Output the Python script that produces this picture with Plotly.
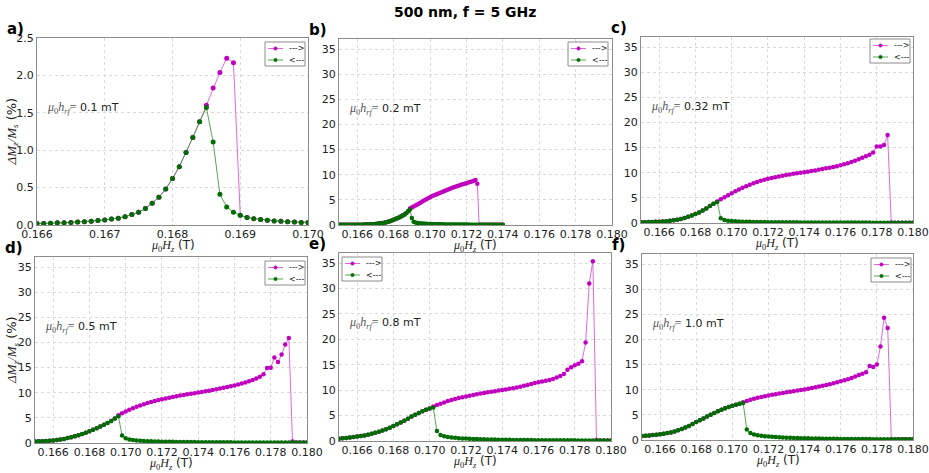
import plotly.graph_objects as go
import numpy as np

# ---------------- data ----------------
# panel a: x grid 0.1660 .. 0.1700, step 0.0001
a_x0, a_dx = 0.1660, 0.0001
a_back = [0.02, 0.02, 0.025, 0.03, 0.03, 0.035, 0.04, 0.045, 0.05, 0.06,
          0.067, 0.08, 0.09, 0.11, 0.14, 0.17, 0.22, 0.29, 0.37, 0.48,
          0.62, 0.78, 0.97, 1.17, 1.38, 1.57, 1.11, 0.41, 0.24, 0.17,
          0.13, 0.10, 0.085, 0.075, 0.065, 0.055, 0.05, 0.045, 0.04, 0.035,
          0.035]
a_split = 25
a_fwd_branch = [1.60, 1.83, 2.04, 2.23, 2.17, 0.13]

# panel b: x grid 0.1650 .. 0.1740, step 0.0001
b_x0, b_dx = 0.1650, 0.0001
b_back = [0.03, 0.03, 0.03, 0.03, 0.04, 0.04, 0.04, 0.04, 0.05, 0.05,
          0.05, 0.06, 0.06, 0.07, 0.08, 0.09, 0.10, 0.12, 0.14, 0.17,
          0.22, 0.25, 0.29, 0.34, 0.40, 0.47, 0.55, 0.64, 0.75, 0.88,
          1.02, 1.17, 1.33, 1.50, 1.68, 1.88, 2.10, 2.40, 2.75, 3.10,
          1.40, 0.65, 0.50, 0.42, 0.36, 0.32, 0.28, 0.25, 0.23, 0.21,
          0.19, 0.18, 0.17, 0.16, 0.15, 0.14, 0.14, 0.13, 0.12, 0.12,
          0.11, 0.11, 0.10, 0.10, 0.10, 0.09, 0.09, 0.09, 0.08, 0.08,
          0.08, 0.08, 0.07, 0.07, 0.07, 0.07, 0.07, 0.06, 0.06, 0.06,
          0.06, 0.06, 0.06, 0.06, 0.05, 0.05, 0.05, 0.05, 0.05, 0.05,
          0.05]
b_split = 39
b_fwd_branch = [3.3, 3.5, 3.7, 3.9, 4.1, 4.3, 4.5, 4.7, 4.9, 5.1,
                5.3, 5.5, 5.7, 5.85, 6.0, 6.15, 6.3, 6.45, 6.6, 6.75,
                6.9, 7.05, 7.2, 7.35, 7.5, 7.6, 7.75, 7.85, 8.0, 8.1,
                8.2, 8.3, 8.45, 8.55, 8.65, 8.8, 8.95, 8.2, 0.05]

# panels c-f: x grid 0.1650 .. 0.1800, step 0.0002
cf_x0, cf_dx = 0.1650, 0.0002
c_back = [0.15, 0.16, 0.18, 0.20, 0.23, 0.26, 0.30, 0.36, 0.43, 0.53,
          0.65, 0.80, 1.00, 1.25, 1.50, 1.80, 2.10, 2.50, 2.90, 3.40,
          3.85, 4.20, 0.95, 0.62, 0.47, 0.39, 0.34, 0.30, 0.27, 0.25,
          0.23, 0.21, 0.20, 0.19, 0.18, 0.17, 0.16, 0.155, 0.15, 0.145,
          0.14, 0.135, 0.13, 0.125, 0.12, 0.115, 0.11, 0.11, 0.105, 0.10,
          0.10, 0.10, 0.095, 0.09, 0.09, 0.09, 0.085, 0.085, 0.08, 0.08,
          0.08, 0.075, 0.075, 0.075, 0.07, 0.07, 0.07, 0.07, 0.065, 0.065,
          0.065, 0.065, 0.06, 0.06, 0.06, 0.06]
c_split = 21
c_fwd_branch = [4.3, 4.7, 5.1, 5.5, 5.9, 6.3, 6.65, 7.0, 7.3, 7.6,
                7.9, 8.15, 8.4, 8.6, 8.8, 8.95, 9.1, 9.25, 9.4, 9.55,
                9.65, 9.8, 9.9, 10.0, 10.1, 10.2, 10.35, 10.45, 10.6, 10.75,
                10.9, 11.0, 11.15, 11.3, 11.5, 11.7, 11.9, 12.15, 12.4, 12.7,
                13.0, 13.3, 13.6, 14.0, 15.2, 15.2, 15.5, 17.5, 0.1]

d_back = [0.30, 0.33, 0.37, 0.41, 0.46, 0.52, 0.60, 0.70, 0.82, 0.97,
          1.15, 1.35, 1.55, 1.80, 2.05, 2.35, 2.65, 2.95, 3.30, 3.65,
          4.00, 4.40, 4.85, 5.30, 1.50, 0.95, 0.72, 0.60, 0.52, 0.46,
          0.41, 0.37, 0.34, 0.31, 0.29, 0.27, 0.25, 0.24, 0.23, 0.22,
          0.21, 0.20, 0.19, 0.18, 0.18, 0.17, 0.16, 0.16, 0.15, 0.15,
          0.14, 0.14, 0.13, 0.13, 0.13, 0.12, 0.12, 0.12, 0.11, 0.11,
          0.11, 0.10, 0.10, 0.10, 0.10, 0.10, 0.09, 0.09, 0.09, 0.09,
          0.09, 0.09, 0.08, 0.08, 0.08, 0.08]
d_split = 23
d_fwd_branch = [5.5, 5.9, 6.25, 6.6, 6.9, 7.2, 7.45, 7.7, 7.95, 8.15,
                8.35, 8.55, 8.7, 8.85, 9.0, 9.15, 9.3, 9.45, 9.55, 9.7,
                9.8, 9.9, 10.05, 10.15, 10.3, 10.4, 10.55, 10.7, 10.85, 11.0,
                11.15, 11.3, 11.45, 11.65, 11.85, 12.05, 12.3, 12.55, 12.85, 13.2,
                13.7, 14.9, 14.95, 17.0, 16.1, 17.6, 19.6, 20.9, 0.3]

e_back = [0.45, 0.52, 0.60, 0.68, 0.77, 0.87, 0.98, 1.10, 1.25, 1.42,
          1.60, 1.82, 2.05, 2.30, 2.60, 2.95, 3.30, 3.65, 4.00, 4.40,
          4.80, 5.15, 5.50, 5.85, 6.15, 6.40, 6.60, 1.95, 1.20, 0.95,
          0.80, 0.70, 0.62, 0.56, 0.51, 0.47, 0.43, 0.40, 0.37, 0.35,
          0.33, 0.31, 0.29, 0.28, 0.26, 0.25, 0.24, 0.23, 0.22, 0.21,
          0.20, 0.19, 0.19, 0.18, 0.17, 0.17, 0.16, 0.16, 0.15, 0.15,
          0.14, 0.14, 0.14, 0.13, 0.13, 0.13, 0.12, 0.12, 0.12, 0.12,
          0.11, 0.11, 0.11, 0.11, 0.10, 0.10]
e_split = 26
e_fwd_branch = [6.8, 7.1, 7.35, 7.6, 7.85, 8.05, 8.25, 8.45, 8.6, 8.75,
                8.9, 9.05, 9.2, 9.35, 9.45, 9.6, 9.7, 9.8, 9.95, 10.05,
                10.15, 10.3, 10.4, 10.55, 10.7, 10.85, 11.0, 11.2, 11.4, 11.55,
                11.7, 11.85, 12.0, 12.2, 12.5, 12.8, 13.2, 14.0, 14.5, 14.9,
                15.2, 15.7, 19.4, 31.0, 35.4, 0.2]

f_back = [0.80, 0.85, 0.90, 0.97, 1.05, 1.15, 1.25, 1.37, 1.50, 1.70,
          1.95, 2.20, 2.50, 2.80, 3.20, 3.60, 3.95, 4.30, 4.65, 5.00,
          5.35, 5.70, 6.00, 6.30, 6.55, 6.80, 7.00, 7.20, 7.35, 2.10,
          1.40, 1.10, 0.95, 0.85, 0.76, 0.69, 0.63, 0.58, 0.54, 0.50,
          0.47, 0.44, 0.41, 0.39, 0.37, 0.35, 0.33, 0.31, 0.30, 0.29,
          0.27, 0.26, 0.25, 0.24, 0.23, 0.22, 0.22, 0.21, 0.20, 0.20,
          0.19, 0.19, 0.18, 0.18, 0.17, 0.17, 0.17, 0.16, 0.16, 0.16,
          0.15, 0.15, 0.15, 0.15, 0.14, 0.14]
f_split = 28
f_fwd_branch = [7.5, 7.75, 8.0, 8.2, 8.4, 8.55, 8.7, 8.85, 9.0, 9.1,
                9.25, 9.35, 9.5, 9.6, 9.7, 9.85, 9.95, 10.05, 10.2, 10.35,
                10.5, 10.65, 10.8, 10.95, 11.1, 11.3, 11.5, 11.7, 11.9, 12.1,
                12.35, 12.65, 12.95, 13.2, 13.5, 14.7, 14.5, 15.0, 18.6, 24.3,
                22.3, 0.1]

panel_letters = ["a)", "b)", "c)", "d)", "e)", "f)"]
hrf_labels = ["0.1 mT", "0.2 mT", "0.32 mT", "0.5 mT", "0.8 mT", "1.0 mT"]
legend_names = ["---&gt;", "&lt;---"]
title_text = "500 nm, f = 5 GHz"

# ---------------- layout geometry (pixels) ----------------
W, H = 929, 473
boxes = [  # left, right, top, bottom of each plot area
    (37, 308, 38, 225),
    (339, 612, 39, 225),
    (641, 913, 37, 223),
    (35, 307, 257, 443),
    (339, 611, 253, 441),
    (642, 913, 254, 440),
]
legend_boxes = [  # left, top of each legend box
    (265, 42), (568, 42), (870, 39), (265, 261), (342, 257), (871, 258),
]
LEG_W, LEG_H = 40, 24

MAG = "#bf00bf"
GRN = "#006d00"
MAG_L = "rgba(214,80,214,0.85)"
GRN_L = "rgba(60,150,60,0.85)"


def grid(x0, dx, n):
    return np.round(x0 + dx * np.arange(n), 6)


def fwd(back, split, branch):
    return back[:split] + branch + back[split + len(branch):]


def px(x):
    return x / W


def py(y):
    return 1 - y / H


panels = [
    (a_x0, a_dx, a_back, a_split, a_fwd_branch),
    (b_x0, b_dx, b_back, b_split, b_fwd_branch),
    (cf_x0, cf_dx, c_back, c_split, c_fwd_branch),
    (cf_x0, cf_dx, d_back, d_split, d_fwd_branch),
    (cf_x0, cf_dx, e_back, e_split, e_fwd_branch),
    (cf_x0, cf_dx, f_back, f_split, f_fwd_branch),
]

fig = go.Figure()
layout = dict(width=W, height=H, margin=dict(l=0, r=0, t=0, b=0, autoexpand=False),
              paper_bgcolor="white", plot_bgcolor="white",
              font=dict(family="DejaVu Sans", size=11, color="#222"),
              showlegend=False)
annotations = []
shapes = []

SERIF = "Liberation Serif"
xlab = ('<span style="font-family:%s"><i>μ</i><sub>0</sub><i>H</i><sub><i>z</i></sub></span> (T)' % SERIF)
ylab = ('<span style="font-family:%s"><i>ΔM</i><sub><i>z</i></sub><i>/M</i><sub><i>s</i></sub></span> (%%)' % SERIF)

for i, (x0, dx, back, split, branch) in enumerate(panels):
    k = i + 1
    sfx = "" if k == 1 else str(k)
    xs = grid(x0, dx, len(back))
    fy = fwd(back, split, branch)
    msize = 5 if i == 0 else 4.5
    fig.add_trace(go.Scatter(x=xs, y=fy, mode="lines+markers", name=legend_names[0],
                             line=dict(color=MAG_L, width=1),
                             marker=dict(color=MAG, size=msize),
                             xaxis="x" + sfx, yaxis="y" + sfx))
    fig.add_trace(go.Scatter(x=xs, y=back, mode="lines+markers", name=legend_names[1],
                             line=dict(color=GRN_L, width=1),
                             marker=dict(color=GRN, size=msize),
                             xaxis="x" + sfx, yaxis="y" + sfx))
    l, r, t, b = boxes[i]
    axcommon = dict(showline=True, linecolor="#8c8c8c", linewidth=1, mirror=True,
                    showgrid=True, gridcolor="#dadada", griddash="dot", gridwidth=1,
                    zeroline=False, ticks="", automargin=False,
                    tickfont=dict(size=11, color="#222"))
    if i == 0:
        xa = dict(range=[0.166, 0.170], tick0=0.166, dtick=0.001, tickformat=".3f")
        ya = dict(range=[0, 2.5], tick0=0, dtick=0.5, tickformat=".1f")
    else:
        xa = dict(range=[0.165, 0.180], tick0=0.166, dtick=0.002, tickformat=".3f")
        ya = dict(range=[0, 37], tick0=0, dtick=5)
    xa.update(axcommon, domain=[px(l), px(r)], anchor="y" + sfx, ticklabelstandoff=-1)
    ya.update(axcommon, domain=[py(b), py(t)], anchor="x" + sfx)
    layout["xaxis" + sfx] = xa
    layout["yaxis" + sfx] = ya

    # legend box (drawn by hand so its size matches the original)
    lx, ly = legend_boxes[i]
    shapes.append(dict(type="rect", xref="paper", yref="paper",
                       x0=px(lx), x1=px(lx + LEG_W), y0=py(ly + LEG_H), y1=py(ly),
                       line=dict(color="#8c8c8c", width=1), fillcolor="white", layer="above"))
    for j, (lc, mc) in enumerate([(MAG_L, MAG), (GRN_L, GRN)]):
        ry = ly + 6.5 + 11.5 * j
        shapes.append(dict(type="line", xref="paper", yref="paper",
                           x0=px(lx + 3), x1=px(lx + 18), y0=py(ry), y1=py(ry),
                           line=dict(color=lc, width=1), layer="above"))
        shapes.append(dict(type="circle", xref="paper", yref="paper",
                           x0=px(lx + 8.8), x1=px(lx + 12.2), y0=py(ry + 1.7), y1=py(ry - 1.7),
                           line=dict(color=mc, width=0.5), fillcolor=mc, layer="above"))
        annotations.append(dict(x=px(lx + 22), y=py(ry), xref="paper", yref="paper",
                                text=legend_names[j], showarrow=False,
                                xanchor="left", yanchor="middle",
                                font=dict(size=8, color="#222")))

    # panel letter
    annotations.append(dict(x=px(l - 32), y=py(t - 9), xref="paper", yref="paper",
                            text="<b>%s</b>" % panel_letters[i], showarrow=False,
                            xanchor="left", yanchor="middle",
                            font=dict(size=15, color="black")))
    # h_rf label
    annotations.append(dict(x=px(l + 8), y=py(t + 70), xref="paper", yref="paper",
                            text=('<span style="font-family:%s;color:#555;font-size:12px"><i>μ</i><sub>0</sub><i>h</i><sub><i>rf</i></sub>=</span> %s'
                                  % (SERIF, hrf_labels[i])),
                            showarrow=False, xanchor="left", yanchor="middle",
                            font=dict(size=11, color="#222")))
    # x label
    annotations.append(dict(x=px((l + r) / 2), y=py(b + 21), xref="paper", yref="paper",
                            text=xlab, showarrow=False, xanchor="center", yanchor="middle",
                            font=dict(size=12, color="#222")))
    if i in (0, 3):
        annotations.append(dict(x=px(12), y=py((t + b) / 2), xref="paper", yref="paper",
                                text=ylab, showarrow=False, textangle=-90,
                                xanchor="center", yanchor="middle",
                                font=dict(size=13, color="#222")))

annotations.append(dict(x=px(465), y=py(12), xref="paper", yref="paper",
                        text="<b>%s</b>" % title_text, showarrow=False,
                        xanchor="center", yanchor="middle",
                        font=dict(size=14, color="black")))
layout["annotations"] = annotations
layout["shapes"] = shapes
fig.update_layout(**layout)
fig.write_html("out.html", config={"displayModeBar": False},
               post_script="document.body.style.margin='0';document.body.style.overflow='hidden';")
